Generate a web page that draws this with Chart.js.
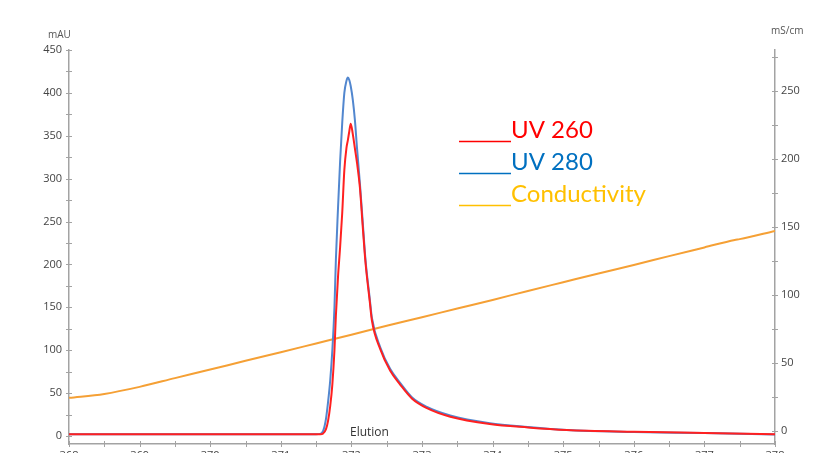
<!DOCTYPE html>
<html>
<head>
<meta charset="utf-8">
<script src="https://cdn.jsdelivr.net/npm/chart.js@4.4.1/dist/chart.umd.min.js"></script>
<style>
  body { margin: 0; background: #fff; }
  #wrap { width: 814px; height: 453px; position: relative; }
</style>
</head>
<body>
<div id="wrap"><canvas id="chart"></canvas></div>
<script>
// Elution volume (ml) where the UV traces were read
var uvVolume = [368.0, 371.50, 371.56, 371.60, 371.64, 371.67, 371.70, 371.73, 371.76, 371.78,
  371.81, 371.84, 371.87, 371.90, 371.93, 371.95, 371.97, 371.99, 372.02, 372.05,
  372.08, 372.12, 372.16, 372.20, 372.26, 372.29, 372.41, 372.55, 372.69, 372.86,
  373.07, 373.40, 373.96, 374.50, 375.05, 376.0, 377.0, 378.0];
var uv260 = [2, 2, 2, 3, 8, 18, 35, 60, 100, 140,
  185, 220, 260, 310, 336, 345, 355, 364, 352, 335,
  318, 290, 245, 202, 157, 135, 101, 76, 60, 43.5,
  32.5, 22.5, 14, 10, 7, 5, 3.6, 2.2];
var uv280 = [2, 2, 2.5, 6, 20, 40, 65, 100, 150, 205,
  265, 320, 365, 400, 414, 418, 415, 408, 392, 368,
  335, 295, 250, 205, 160, 138, 103, 78, 62, 45,
  34, 24, 15, 10.5, 7, 4.7, 3.4, 1.8];

// Conductivity (mS/cm)
var condVolume = [368.0, 368.5, 369.0, 369.5, 370.0, 370.5, 371.0, 371.5, 372.0, 372.5,
  373.0, 373.5, 374.0, 374.5, 375.0, 375.5, 376.0, 376.5, 377.0, 377.43, 377.5, 378.0];
var conductivity = [24.3, 27.2, 32.4, 38.8, 45.1, 51.6, 57.9, 64.3, 70.7, 77.3,
  83.6, 90.0, 96.3, 102.9, 109.3, 115.7, 122.0, 128.5, 134.9, 140.4, 141.0, 147.0];

// Labelled ticks
var volumeTicks = [368, 369, 370, 371, 372, 373, 374, 375, 376, 377, 378];
var mauTicks = [0, 50, 100, 150, 200, 250, 300, 350, 400, 450];
var condTicks = [0, 50, 100, 150, 200, 250];

function points(xs, ys) {
  return xs.map(function(x, i) { return { x: x, y: ys[i] }; });
}

// labelled ticks plus the half-way ticks between them
function withMinor(ticks, extra) {
  var out = [];
  for (var i = 0; i < ticks.length; i++) {
    out.push(ticks[i]);
    if (i < ticks.length - 1) out.push((ticks[i] + ticks[i + 1]) / 2);
  }
  if (extra) out.push(ticks[ticks.length - 1] + (ticks[1] - ticks[0]) / 2);
  return out;
}

// pin a scale to a fixed size and drop the label overhang padding
function fixSize(w, h) {
  return function(s) {
    if (w !== null) s.width = w;
    if (h !== null) s.height = h;
    s.paddingTop = 0; s.paddingBottom = 0; s.paddingLeft = 0; s.paddingRight = 0;
  };
}

var axisColor = '#a3a3a3';
var tickFont = { family: 'Open Sans', size: 11 };

var annotate = {
  id: 'annotate',
  afterDraw: function(chart) {
    var ctx = chart.ctx;
    var area = chart.chartArea;
    var sx = chart.scales.x, sy = chart.scales.y, sy1 = chart.scales.y1;
    ctx.save();
    ctx.strokeStyle = axisColor;
    ctx.lineWidth = 1;
    ctx.beginPath();
    withMinor(volumeTicks).forEach(function(v) {
      var p = Math.round(sx.getPixelForValue(v)) + 0.5;
      ctx.moveTo(p, area.bottom - 3); ctx.lineTo(p, area.bottom + 3);
    });
    withMinor(mauTicks).forEach(function(v) {
      var p = Math.round(sy.getPixelForValue(v)) + 0.5;
      ctx.moveTo(area.left - 3, p); ctx.lineTo(area.left + 3, p);
    });
    withMinor(condTicks, true).forEach(function(v) {
      var p = Math.round(sy1.getPixelForValue(v)) + 0.5;
      ctx.moveTo(area.right - 3, p); ctx.lineTo(area.right + 3, p);
    });
    ctx.stroke();

    // axis units and the phase label
    ctx.fillStyle = '#555';
    ctx.font = '10px "Open Sans"';
    ctx.textBaseline = 'middle';
    ctx.textAlign = 'left';
    ctx.fillText('mAU', 48, 35);
    ctx.fillText('mS/cm', 771, 31);
    ctx.fillText('ml', 804, 458);
    ctx.fillStyle = '#333';
    ctx.font = '12px "Open Sans"';
    ctx.fillText('Elution', 350, 433);

    // hand-made legend
    var rows = [['UV 260', '#ff0000', 138], ['UV 280', '#0070c0', 170], ['Conductivity', '#ffc000', 202]];
    ctx.font = '22px Lato';
    var size = 22 * 135 / ctx.measureText('Conductivity').width;
    ctx.font = size.toFixed(1) + 'px Lato';
    ctx.textBaseline = 'alphabetic';
    rows.forEach(function(r) {
      ctx.strokeStyle = r[1];
      ctx.fillStyle = r[1];
      ctx.lineWidth = 1.5;
      ctx.beginPath();
      ctx.moveTo(459, r[2] + 3.5); ctx.lineTo(511, r[2] + 3.5);
      ctx.stroke();
      ctx.fillText(r[0], 511, r[2]);
    });
    ctx.restore();
  }
};

var ctx = document.getElementById('chart');
var myChart = new Chart(ctx, {
  type: 'line',
  data: {
    datasets: [{
      label: 'UV 280',
      data: points(uvVolume, uv280),
      borderColor: '#5287cf',
      borderWidth: 2,
      yAxisID: 'y',
      order: 2
    }, {
      label: 'UV 260',
      data: points(uvVolume, uv260),
      borderColor: '#ff2020',
      borderWidth: 2,
      yAxisID: 'y',
      order: 1
    }, {
      label: 'Conductivity',
      data: points(condVolume, conductivity),
      borderColor: '#f5a035',
      borderWidth: 2,
      yAxisID: 'y1',
      order: 3
    }]
  },
  options: {
    responsive: true,
    maintainAspectRatio: false,
    animation: false,
    cubicInterpolationMode: 'monotone',
    elements: { point: { radius: 0 } },
    layout: { padding: { top: 50, left: 0, right: 0, bottom: 0 } },
    plugins: { legend: { display: false }, tooltip: { enabled: false } },
    scales: {
      x: {
        type: 'linear',
        min: 368,
        max: 378,
        afterBuildTicks: function(s) { s.ticks = volumeTicks.map(function(v) { return { value: v }; }); },
        afterFit: fixSize(null, 9),
        grid: { display: false, drawTicks: false },
        border: { color: axisColor, width: 1.5 },
        ticks: { font: tickFont, color: '#444', padding: 5, maxRotation: 0, autoSkip: false }
      },
      y: {
        position: 'left',
        min: -9.3,
        max: 450,
        afterBuildTicks: function(s) { s.ticks = mauTicks.map(function(v) { return { value: v }; }); },
        afterFit: fixSize(69, null),
        grid: { display: false, drawTicks: false },
        border: { color: axisColor, width: 1.5 },
        ticks: { font: tickFont, color: '#444', padding: 7 }
      },
      y1: {
        position: 'right',
        min: -9.6,
        max: 280,
        afterBuildTicks: function(s) { s.ticks = condTicks.map(function(v) { return { value: v }; }); },
        afterFit: fixSize(39, null),
        grid: { display: false, drawTicks: false },
        border: { color: axisColor, width: 1.5 },
        ticks: { font: tickFont, color: '#444', padding: 6 }
      }
    }
  },
  plugins: [annotate]
});
</script>
</body>
</html>
